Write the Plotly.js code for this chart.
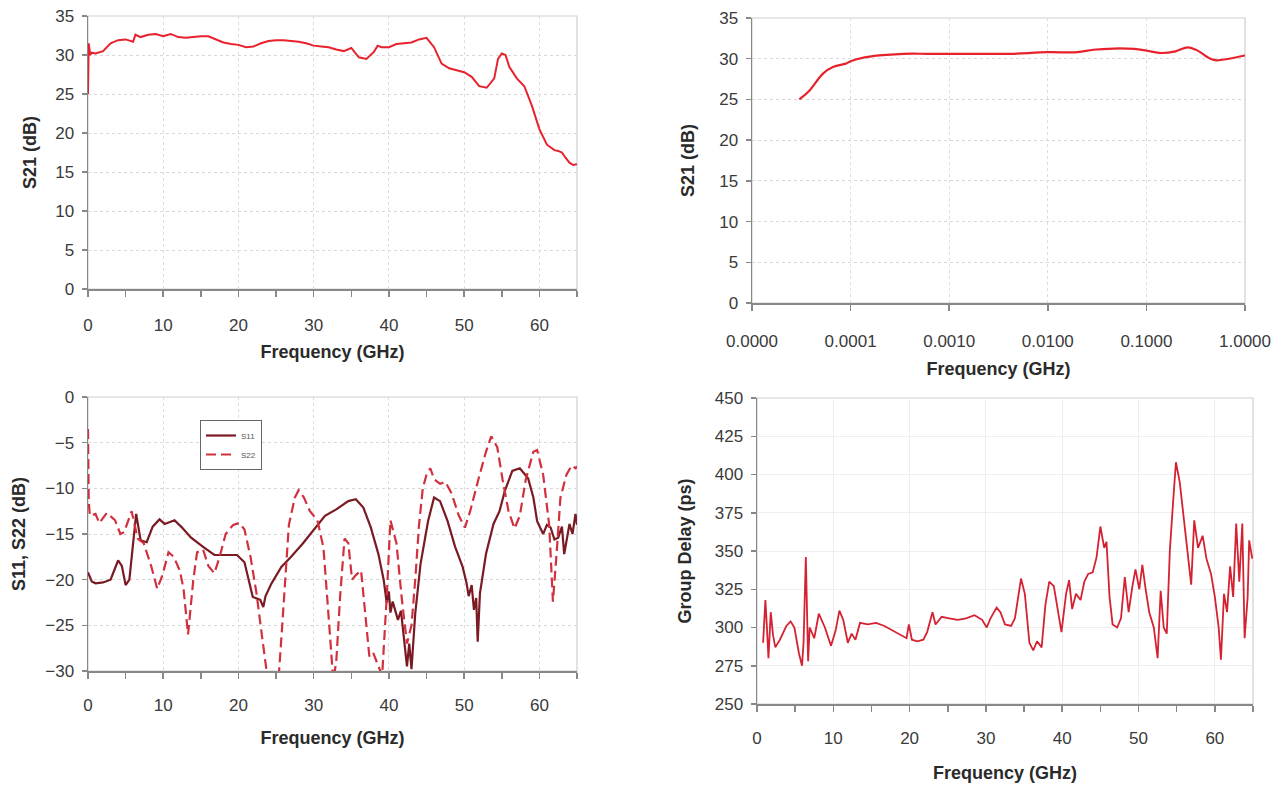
<!DOCTYPE html>
<html><head><meta charset="utf-8">
<script src="https://cdn.plot.ly/plotly-3.0.1.min.js"></script>
<style>html,body{margin:0;padding:0;background:#fff}#c{width:1287px;height:790px}</style>
</head><body><div id="c"></div>
<script>
// Panel A: S21 vs frequency (linear)
const s21Freq = [0,0.1,0.3,0.5,1,2,3,4,5,6,6.3,7,8,9,10,11,12,13,14,15,16,17,18,19,20,21,22,23,24,25,26,27,28,29,30,31,32,33,34,35,36,37,38,38.5,39,40,41,42,43,44,45,46,47,48,49,50,51,52,53,54,54.5,55,55.5,56,57,58,59,60,61,62,62.5,63,63.5,64,64.5,65];
const s21dB = [25,31.5,30.0,30.3,30.2,30.5,31.5,31.9,32.0,31.7,32.6,32.3,32.6,32.7,32.4,32.7,32.3,32.2,32.3,32.4,32.4,32.0,31.6,31.4,31.3,31.0,31.1,31.5,31.8,31.9,31.9,31.8,31.7,31.5,31.2,31.1,31.0,30.7,30.5,30.9,29.7,29.5,30.4,31.2,31.0,31.0,31.4,31.5,31.6,32.0,32.2,31.0,28.9,28.3,28.0,27.8,27.2,26.0,25.8,27.0,29.5,30.2,30.0,28.5,27.0,26.0,23.5,20.5,18.5,17.8,17.7,17.5,16.8,16.2,15.9,16.0];

// Panel B: S21 vs frequency (log)
const lowFreq = [3.02e-5,3.77e-5,5.28e-5,6.71e-5,8.96e-5,1e-4,1.32e-4,1.94e-4,3.44e-4,6.14e-4,1e-3,2.6e-3,4.2e-3,1e-2,2e-2,2.88e-2,4.65e-2,7.5e-2,0.1,0.141,0.197,0.262,0.318,0.446,0.515,0.687,1.0];
const lowS21 = [25.0,26.0,28.2,29.0,29.4,29.7,30.1,30.4,30.6,30.6,30.6,30.6,30.6,30.8,30.8,31.1,31.25,31.2,31.0,30.7,30.9,31.4,31.1,30.0,29.8,30.0,30.4];
const logTickVals = [1e-5,1e-4,1e-3,1e-2,1e-1,1];
const logTickText = ["0.0000","0.0001","0.0010","0.0100","0.1000","1.0000"];

// Panel C: S11 and S22
const s11Freq = [0,0.5,1,2,3,4,4.5,5,5.5,6,6.4,7,7.8,8.6,9.5,10.2,11.5,12.5,13.7,15.3,16.8,18.3,19.8,20.8,21.9,22.9,23.3,23.6,24.4,25.7,27,28.5,30,31.5,33,34.6,35.6,36.6,37.6,38.6,39.3,39.7,40.0,40.2,40.5,41.2,41.6,41.9,42.2,42.4,42.7,43,43.5,44.2,45.2,46,46.8,47.8,48.8,49.8,50.3,50.6,51.0,51.3,51.6,51.8,52.1,52.9,53.9,54.7,55.4,56.4,57.4,58.5,59.2,59.7,60.5,61.0,61.5,62.0,62.5,63.0,63.3,64,64.4,64.8,65];
const s11dB = [-19.2,-20.2,-20.4,-20.3,-20.0,-17.9,-18.5,-20.6,-20.0,-16.0,-12.8,-15.7,-15.9,-14.2,-13.4,-13.9,-13.5,-14.3,-15.4,-16.4,-17.3,-17.3,-17.3,-18.1,-21.9,-22.2,-23.0,-21.8,-20.4,-18.6,-17.5,-16.1,-14.6,-13.0,-12.3,-11.4,-11.2,-12.1,-14.3,-17.2,-20.0,-22.5,-21.3,-23.6,-22.4,-24.4,-23.4,-25.8,-27.5,-29.5,-27.0,-29.8,-23.7,-18.3,-13.6,-11.0,-11.4,-13.6,-16.4,-18.6,-20.3,-21.8,-20.6,-23.3,-22.0,-26.8,-21.5,-17.2,-13.9,-12.5,-10.3,-8.1,-7.8,-8.9,-11.0,-13.6,-15.0,-14.0,-14.3,-15.6,-15.4,-14.2,-17.2,-13.9,-15.0,-12.8,-14.0];
const s22Freq = [0,0.1,0.25,1,1.5,2.5,3.6,4.3,4.8,5.8,6.6,7.4,8.4,9.2,9.9,10.7,11.4,12.2,12.7,13.3,14,14.5,15.3,16,16.8,17.5,18.3,19.3,20.1,20.8,21.6,22.4,23.1,23.9,24.7,25.4,25.9,26.7,27.5,28,28.7,29.5,30.5,31.3,31.8,32.3,32.6,33,33.5,34.1,34.6,35.1,35.6,36.3,36.9,37.4,37.9,38.6,39.1,39.7,40.2,41,41.7,42.4,43,43.5,44,44.5,45,45.5,46,46.8,47.5,48.3,49.3,50.1,50.8,51.9,52.9,53.6,54.4,55.1,55.9,56.7,57.4,58.2,59.2,59.7,60.5,61.3,61.8,62.3,62.8,63.6,64.3,64.8,65];
const s22dB = [-3.5,-11.5,-13.0,-12.8,-13.8,-12.7,-13.5,-15.0,-14.8,-12.5,-15.5,-16.0,-18.5,-21.0,-19.5,-17.0,-17.5,-19.0,-21.0,-26.0,-20.0,-17.0,-16.7,-18.5,-19.3,-17.5,-15.0,-14.0,-13.8,-14.5,-17.5,-21.5,-26.0,-31.0,-32.0,-30.0,-24.0,-14.0,-11.0,-10.2,-11.0,-12.5,-13.5,-16.5,-22.0,-28.0,-31.0,-29.0,-22.0,-15.5,-16.0,-20.0,-19.5,-19.0,-24.0,-28.4,-28.0,-29.5,-30.5,-22.0,-13.5,-16.0,-22.0,-27.0,-25.0,-20.0,-14.0,-10.0,-8.5,-7.8,-9.0,-9.5,-9.3,-10.5,-13.0,-14.3,-12.5,-9.0,-6.0,-4.3,-5.5,-9.0,-12.5,-14.4,-13.0,-9.0,-6.0,-5.8,-8.5,-14.0,-22.4,-17.0,-11.0,-8.5,-7.5,-7.8,-7.6];

// Panel D: group delay
const gdFreq = [0.8,1.1,1.3,1.5,1.8,2.1,2.4,3,3.85,4.4,4.9,5.5,5.9,6.1,6.4,6.7,6.9,7.5,8.1,8.9,9.7,10.3,10.8,11.3,11.9,12.4,12.9,13.5,14.5,15.6,16.7,17.8,18.8,19.6,19.9,20.3,21,21.8,22.3,23,23.4,24.2,25.2,26.3,27.4,28.5,29.5,30.1,30.6,31.4,31.9,32.5,33.3,33.8,34.6,35.1,35.7,36.2,36.7,37.3,37.8,38.3,38.9,39.4,39.9,40.5,40.9,41.3,41.8,42.4,42.9,43.4,44,44.5,45,45.5,45.8,46.2,46.6,47.2,47.7,48.2,48.7,49.2,49.6,50.1,50.5,50.9,51.4,52,52.5,52.9,53.3,53.7,54.1,54.5,54.9,55.4,55.9,56.5,56.9,57.3,57.8,58.4,58.9,59.5,60,60.5,60.8,61.2,61.6,62,62.4,62.8,63.2,63.6,63.9,64.3,64.5,64.9];
const gdPs = [290,318,300,280,310,295,287,292,301,304,300,283,275,290,346,278,300,293,309,300,288,298,311,305,290,296,292,303,302,303,301,298,295,293,302,292,291,292,297,310,302,307,306,305,306,308,305,300,306,313,310,302,301,306,332,322,290,285,291,287,315,330,327,312,297,322,331,312,322,318,330,335,336,346,366,352,356,320,302,300,306,333,310,327,338,325,341,326,310,300,280,324,300,296,350,380,408,395,372,345,328,370,352,360,345,335,320,300,279,322,310,340,320,368,330,368,293,320,357,345];

const FAM = 'Liberation Sans, Arial, sans-serif';
const tickFont = {family: FAM, size: 17, color: '#3a3a3a'};
const titleFont = {family: FAM, size: 18, color: '#2a2a2a', weight: 'bold'};

function xax(domain, anchor, extra) {
  return Object.assign({
    domain: domain, anchor: anchor, showline: true, linecolor: '#888', linewidth: 1.5,
    ticks: 'outside', ticklen: 6, tickcolor: '#888', tickwidth: 1.5,
    showgrid: true, gridcolor: '#ddd', griddash: 'dot', zeroline: false,
    tickfont: tickFont, ticklabelstandoff: 14
  }, extra);
}
function yax(domain, anchor, extra) {
  return Object.assign({
    domain: domain, anchor: anchor, showline: true, linecolor: '#888', linewidth: 1.5,
    ticks: 'outside', ticklen: 5, tickcolor: '#888', tickwidth: 1.5,
    showgrid: true, gridcolor: '#d8d8d8', griddash: 'dot', zeroline: false,
    tickfont: tickFont, ticklabelstandoff: 4
  }, extra);
}

const W = 1287, H = 790;
const dx = (a, b) => [a / W, b / W];
const dy = (top, bot) => [1 - bot / H, 1 - top / H];

const traces = [
  {x: s21Freq, y: s21dB, xaxis: 'x', yaxis: 'y', mode: 'lines', line: {color: '#E8222C', width: 2}, showlegend: false},
  {x: lowFreq, y: lowS21, xaxis: 'x2', yaxis: 'y2', mode: 'lines', line: {color: '#E8222C', width: 2.2, shape: 'spline'}, showlegend: false},
  {x: s11Freq, y: s11dB, xaxis: 'x3', yaxis: 'y3', mode: 'lines', name: 'S11', line: {color: '#7A1A22', width: 2.2}},
  {x: s22Freq, y: s22dB, xaxis: 'x3', yaxis: 'y3', mode: 'lines', name: 'S22', line: {color: '#D2303E', width: 2.2, dash: '10px,5px'}},
  {x: gdFreq, y: gdPs, xaxis: 'x4', yaxis: 'y4', mode: 'lines', line: {color: '#D42232', width: 1.8}, showlegend: false}
];

function frame(n) {
  const s = n === 1 ? '' : String(n);
  return {type: 'rect', xref: 'x' + s + ' domain', yref: 'y' + s + ' domain', x0: 0, x1: 1, y0: 0, y1: 1,
    line: {color: '#cfcfcf', width: 1.2}, layer: 'below'};
}
const minor5 = {dtick: 5, ticks: 'outside', ticklen: 6, tickcolor: '#888', showgrid: false};

const layout = {
  width: W, height: H, margin: {l: 0, r: 0, t: 0, b: 0},
  paper_bgcolor: '#fff', plot_bgcolor: '#fff',
  font: tickFont,
  xaxis: xax(dx(88, 577), 'y', {range: [0, 65], dtick: 10, tick0: 0, minor: minor5,
    title: {text: 'Frequency (GHz)', font: titleFont, standoff: 11}}),
  yaxis: yax(dy(16, 289), 'x', {range: [0, 35], dtick: 5,
    title: {text: 'S21 (dB)', font: titleFont, standoff: 14}}),
  xaxis2: xax(dx(752, 1245), 'y2', {type: 'log', range: [-5, 0], tickvals: logTickVals, ticktext: logTickText,
    ticklabelstandoff: 16,
    title: {text: 'Frequency (GHz)', font: titleFont, standoff: 12}}),
  yaxis2: yax(dy(18, 303), 'x2', {range: [0, 35], dtick: 5,
    title: {text: 'S21 (dB)', font: titleFont, standoff: 20}}),
  xaxis3: xax(dx(88, 577), 'y3', {range: [0, 65], dtick: 10, tick0: 0, minor: minor5,
    ticklabelstandoff: 12,
    title: {text: 'Frequency (GHz)', font: titleFont, standoff: 17}}),
  yaxis3: yax(dy(397, 671), 'x3', {range: [-30, 0], dtick: 5,
    title: {text: 'S11, S22 (dB)', font: titleFont, standoff: 15}}),
  xaxis4: xax(dx(757, 1253), 'y4', {range: [0, 65], dtick: 10, tick0: 0, minor: minor5,
    griddash: 'solid', gridcolor: '#eee', ticklabelstandoff: 12,
    title: {text: 'Frequency (GHz)', font: titleFont, standoff: 19}}),
  yaxis4: yax(dy(398, 704), 'x4', {range: [250, 450], dtick: 25, griddash: 'solid', gridcolor: '#eee',
    title: {text: 'Group Delay (ps)', font: titleFont, standoff: 18}}),
  shapes: [frame(1), frame(2), frame(3), frame(4)],
  showlegend: true,
  legend: {x: 200 / W, y: 1 - 420 / H, xanchor: 'left', yanchor: 'top', bgcolor: '#fff',
    bordercolor: '#666', borderwidth: 1, font: {family: FAM, size: 8, color: '#555'},
    itemwidth: 30, tracegroupgap: 0}
};

Plotly.newPlot('c', traces, layout, {displayModeBar: false, staticPlot: true});
</script>
</body></html>
